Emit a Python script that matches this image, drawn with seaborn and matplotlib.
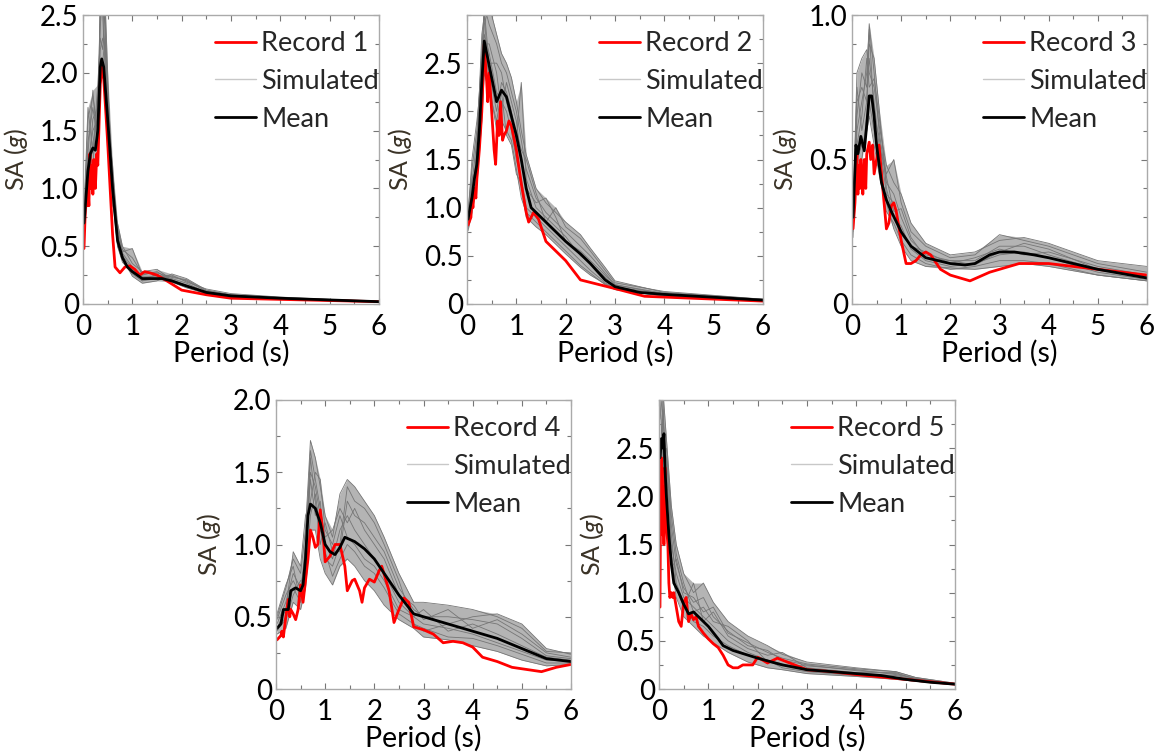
import numpy as np
import pandas as pd
import matplotlib
matplotlib.use("Agg")
import matplotlib.pyplot as plt
from matplotlib.ticker import MultipleLocator
from matplotlib.lines import Line2D
import seaborn as sns

# ---------------- Panel 1 ----------------
p1_mean_T = [0.02, 0.1, 0.15, 0.2, 0.25, 0.3, 0.35, 0.38, 0.42, 0.5, 0.6, 0.7, 0.8, 0.9, 1.0, 1.2, 1.4, 1.6, 1.8, 2.0, 2.5, 3.0, 4.0, 5.0, 6.0]
p1_mean_SA = [0.7, 1.15, 1.3, 1.35, 1.33, 1.5, 2.05, 2.12, 2.05, 1.6, 1.0, 0.55, 0.4, 0.32, 0.28, 0.22, 0.22, 0.22, 0.2, 0.17, 0.1, 0.07, 0.05, 0.035, 0.02]
p1_rec_T = [0.02, 0.05, 0.08, 0.1, 0.12, 0.14, 0.16, 0.18, 0.2, 0.22, 0.25, 0.28, 0.3, 0.35, 0.38, 0.42, 0.5, 0.6, 0.65, 0.75, 0.85, 0.95, 1.05, 1.15, 1.25, 1.35, 1.5, 1.7, 2.0, 2.5, 3.0, 4.0, 5.0, 6.0]
p1_rec_SA = [0.48, 0.85, 0.85, 1.0, 0.85, 1.3, 1.0, 1.2, 0.95, 1.25, 1.0, 1.3, 1.2, 1.9, 2.05, 1.95, 1.4, 0.6, 0.32, 0.27, 0.32, 0.33, 0.3, 0.25, 0.28, 0.27, 0.25, 0.2, 0.12, 0.08, 0.05, 0.04, 0.03, 0.02]
p1_sim_T = [0.02, 0.1, 0.2, 0.3, 0.35, 0.4, 0.45, 0.5, 0.6, 0.7, 0.8, 1.0, 1.2, 1.5, 1.8, 2.1, 2.5, 3, 4, 5, 6]
p1_sim = [
    [0.65, 1.2, 1.5, 1.6, 2.2, 2.3, 2.2, 1.7, 1.0, 0.6, 0.42, 0.30, 0.22, 0.25, 0.22, 0.18, 0.10, 0.07, 0.05, 0.035, 0.02],
    [0.75, 1.6, 1.8, 1.5, 2.5, 2.6, 2.4, 1.5, 0.9, 0.5, 0.38, 0.26, 0.20, 0.22, 0.24, 0.20, 0.11, 0.08, 0.05, 0.035, 0.02],
    [0.70, 1.0, 1.2, 1.8, 2.0, 2.1, 2.3, 1.9, 1.1, 0.65, 0.45, 0.48, 0.25, 0.28, 0.20, 0.15, 0.09, 0.07, 0.045, 0.03, 0.02],
    [0.60, 1.4, 1.7, 1.4, 2.7, 2.5, 2.0, 1.6, 1.2, 0.55, 0.40, 0.24, 0.18, 0.20, 0.26, 0.22, 0.12, 0.08, 0.055, 0.04, 0.025],
    [0.80, 1.7, 1.3, 1.9, 2.3, 2.2, 2.6, 2.0, 0.85, 0.7, 0.5, 0.35, 0.28, 0.30, 0.21, 0.16, 0.10, 0.06, 0.05, 0.03, 0.018],
    [0.68, 1.1, 1.6, 1.7, 2.6, 2.8, 2.5, 1.8, 0.95, 0.5, 0.36, 0.28, 0.24, 0.24, 0.25, 0.19, 0.13, 0.09, 0.06, 0.04, 0.022],
    [0.72, 1.3, 1.85, 1.3, 1.9, 2.0, 1.85, 1.3, 1.05, 0.6, 0.44, 0.32, 0.20, 0.26, 0.19, 0.14, 0.09, 0.07, 0.045, 0.035, 0.02],
    [0.62, 0.95, 1.4, 1.6, 2.4, 2.7, 2.1, 1.75, 1.15, 0.68, 0.47, 0.40, 0.26, 0.27, 0.23, 0.21, 0.11, 0.075, 0.05, 0.03, 0.02],
]

# ---------------- Panel 2 ----------------
p2_mean_T = [0.02, 0.1, 0.15, 0.2, 0.25, 0.3, 0.35, 0.4, 0.5, 0.6, 0.7, 0.8, 0.9, 1.0, 1.1, 1.2, 1.3, 1.5, 1.8, 2.0, 2.3, 2.5, 2.8, 3.0, 3.5, 4.0, 5.0, 6.0]
p2_mean_SA = [0.88, 1.1, 1.3, 1.45, 1.8, 2.3, 2.73, 2.6, 2.35, 2.1, 2.22, 2.15, 1.95, 1.75, 1.5, 1.2, 1.0, 0.9, 0.75, 0.65, 0.52, 0.42, 0.25, 0.18, 0.12, 0.1, 0.07, 0.04]
p2_rec_T = [0.02, 0.08, 0.1, 0.12, 0.15, 0.18, 0.2, 0.25, 0.3, 0.35, 0.4, 0.42, 0.45, 0.5, 0.55, 0.58, 0.62, 0.65, 0.68, 0.72, 0.75, 0.8, 0.85, 0.9, 1.0, 1.1, 1.2, 1.25, 1.35, 1.45, 1.6, 2.0, 2.3, 3.0, 3.6, 6.0]
p2_rec_SA = [0.82, 0.9, 1.1, 1.0, 1.2, 1.1, 1.3, 1.6, 2.0, 2.7, 2.3, 2.1, 2.4, 2.0, 1.6, 1.45, 1.9, 1.75, 2.1, 1.7, 1.75, 1.8, 1.9, 1.85, 1.6, 1.25, 0.95, 0.85, 0.95, 0.88, 0.65, 0.45, 0.25, 0.16, 0.08, 0.03]
p2_sim_T = [0.02, 0.1, 0.2, 0.3, 0.35, 0.45, 0.6, 0.7, 0.8, 0.9, 1.0, 1.1, 1.2, 1.4, 1.6, 1.8, 2.0, 2.3, 2.5, 2.8, 3.0, 4.0, 5.0, 6.0]
p2_sim = [
    [0.80, 1.0, 1.3, 2.0, 2.8, 2.6, 2.2, 2.1, 2.0, 1.8, 1.5, 1.3, 1.0, 0.9, 0.8, 0.7, 0.6, 0.45, 0.35, 0.22, 0.16, 0.09, 0.06, 0.035],
    [0.95, 1.4, 1.8, 2.6, 3.1, 2.9, 2.7, 2.5, 2.4, 2.2, 2.0, 1.7, 1.4, 1.1, 0.95, 0.85, 0.75, 0.6, 0.5, 0.32, 0.2, 0.11, 0.08, 0.045],
    [0.85, 1.2, 1.5, 2.2, 2.6, 2.4, 2.0, 2.3, 2.2, 2.0, 1.7, 2.3, 1.3, 1.0, 0.9, 0.8, 0.7, 0.5, 0.42, 0.28, 0.18, 0.1, 0.07, 0.04],
    [0.78, 1.1, 1.6, 2.8, 3.0, 2.3, 1.8, 1.9, 1.8, 1.7, 1.4, 1.1, 0.95, 0.85, 0.75, 0.65, 0.55, 0.4, 0.32, 0.2, 0.15, 0.08, 0.05, 0.03],
    [0.92, 1.5, 1.9, 2.4, 2.9, 3.1, 2.8, 2.6, 2.5, 2.35, 2.1, 1.8, 1.55, 1.2, 1.05, 0.95, 0.85, 0.72, 0.58, 0.38, 0.24, 0.12, 0.085, 0.05],
    [0.88, 1.3, 1.4, 2.1, 2.7, 2.7, 2.4, 2.0, 2.3, 2.1, 1.9, 1.5, 1.2, 1.05, 1.1, 0.9, 0.65, 0.55, 0.45, 0.3, 0.2, 0.1, 0.07, 0.04],
    [0.76, 0.95, 1.25, 1.9, 2.4, 2.2, 1.9, 2.2, 1.75, 1.65, 1.35, 1.25, 0.9, 0.8, 0.72, 0.62, 0.52, 0.38, 0.3, 0.21, 0.15, 0.085, 0.055, 0.03],
    [0.9, 1.25, 1.7, 2.5, 3.05, 2.5, 2.5, 2.4, 2.1, 1.9, 1.8, 1.6, 1.5, 1.15, 0.85, 1.0, 0.8, 0.68, 0.55, 0.35, 0.22, 0.13, 0.09, 0.05],
]

# ---------------- Panel 3 ----------------
p3_mean_T = [0.02, 0.08, 0.12, 0.18, 0.25, 0.3, 0.35, 0.4, 0.45, 0.5, 0.6, 0.7, 0.8, 1.0, 1.2, 1.5, 2.0, 2.3, 2.5, 2.8, 3.0, 3.3, 3.7, 4.0, 5.0, 6.0]
p3_mean_SA = [0.3, 0.55, 0.52, 0.58, 0.53, 0.62, 0.72, 0.72, 0.65, 0.55, 0.42, 0.36, 0.32, 0.25, 0.2, 0.16, 0.14, 0.135, 0.14, 0.17, 0.18, 0.18, 0.17, 0.16, 0.12, 0.09]
p3_rec_T = [0.02, 0.06, 0.1, 0.12, 0.14, 0.16, 0.18, 0.2, 0.22, 0.25, 0.28, 0.3, 0.35, 0.38, 0.42, 0.45, 0.5, 0.55, 0.6, 0.7, 0.75, 0.8, 0.85, 0.9, 1.0, 1.1, 1.2, 1.3, 1.4, 1.5, 1.6, 1.8, 2.0, 2.4, 2.8, 3.4, 4.0, 5.0, 6.0]
p3_rec_SA = [0.26, 0.35, 0.52, 0.38, 0.48, 0.4, 0.5, 0.45, 0.38, 0.5, 0.4, 0.52, 0.56, 0.5, 0.55, 0.45, 0.5, 0.55, 0.45, 0.26, 0.28, 0.34, 0.35, 0.32, 0.22, 0.14, 0.14, 0.15, 0.17, 0.18, 0.17, 0.12, 0.1, 0.08, 0.11, 0.14, 0.14, 0.12, 0.1]
p3_sim_T = [0.02, 0.1, 0.2, 0.3, 0.35, 0.45, 0.55, 0.7, 0.85, 1.0, 1.2, 1.5, 2.0, 2.5, 3.0, 3.5, 4.0, 5.0, 6.0]
p3_sim = [
    [0.25, 0.6, 0.7, 0.8, 0.97, 0.8, 0.6, 0.42, 0.38, 0.3, 0.22, 0.17, 0.15, 0.15, 0.2, 0.2, 0.17, 0.12, 0.09],
    [0.3, 0.75, 0.6, 0.7, 0.85, 0.7, 0.55, 0.45, 0.5, 0.35, 0.25, 0.2, 0.16, 0.17, 0.24, 0.22, 0.2, 0.14, 0.11],
    [0.28, 0.5, 0.55, 0.6, 0.65, 0.55, 0.45, 0.32, 0.28, 0.22, 0.17, 0.14, 0.12, 0.13, 0.15, 0.15, 0.14, 0.1, 0.08],
    [0.23, 0.65, 0.8, 0.75, 0.9, 0.85, 0.68, 0.4, 0.3, 0.27, 0.19, 0.15, 0.13, 0.14, 0.17, 0.18, 0.16, 0.11, 0.085],
    [0.32, 0.8, 0.85, 0.88, 0.8, 0.75, 0.62, 0.48, 0.42, 0.38, 0.28, 0.21, 0.17, 0.18, 0.22, 0.23, 0.21, 0.15, 0.13],
    [0.27, 0.45, 0.5, 0.65, 0.7, 0.6, 0.5, 0.35, 0.26, 0.2, 0.15, 0.13, 0.125, 0.12, 0.13, 0.14, 0.13, 0.1, 0.08],
    [0.29, 0.7, 0.75, 0.7, 0.95, 0.65, 0.58, 0.38, 0.35, 0.24, 0.2, 0.18, 0.14, 0.16, 0.19, 0.17, 0.18, 0.13, 0.1],
    [0.26, 0.55, 0.65, 0.85, 0.75, 0.78, 0.65, 0.44, 0.32, 0.33, 0.23, 0.16, 0.15, 0.135, 0.18, 0.21, 0.19, 0.12, 0.095],
]

# ---------------- Panel 4 ----------------
p4_mean_T = [0.02, 0.1, 0.15, 0.25, 0.3, 0.4, 0.5, 0.55, 0.6, 0.65, 0.7, 0.8, 0.9, 1.0, 1.1, 1.2, 1.3, 1.4, 1.6, 1.8, 2.0, 2.2, 2.5, 2.8, 3.0, 3.5, 4.0, 4.5, 5.0, 5.5, 6.0]
p4_mean_SA = [0.42, 0.45, 0.55, 0.55, 0.68, 0.7, 0.68, 0.72, 0.9, 1.2, 1.28, 1.25, 1.15, 1.0, 0.95, 0.93, 0.98, 1.05, 1.02, 0.97, 0.9, 0.8, 0.65, 0.52, 0.5, 0.45, 0.4, 0.35, 0.28, 0.21, 0.19]
p4_rec_T = [0.02, 0.1, 0.12, 0.15, 0.2, 0.25, 0.28, 0.3, 0.35, 0.4, 0.45, 0.5, 0.55, 0.6, 0.65, 0.7, 0.75, 0.8, 0.85, 0.9, 0.95, 1.0, 1.1, 1.2, 1.3, 1.4, 1.45, 1.55, 1.6, 1.7, 1.75, 1.8, 1.9, 2.0, 2.1, 2.15, 2.3, 2.4, 2.5, 2.6, 2.7, 2.8, 3.0, 3.2, 3.4, 3.6, 3.8, 4.0, 4.2, 4.5, 4.8, 5.0, 5.4, 5.7, 6.0]
p4_rec_SA = [0.34, 0.37, 0.4, 0.36, 0.5, 0.62, 0.5, 0.55, 0.52, 0.48, 0.55, 0.72, 0.6, 0.75, 0.9, 1.1, 1.05, 0.98, 1.0, 1.24, 1.1, 0.88, 0.92, 1.0, 1.0, 0.85, 0.68, 0.75, 0.76, 0.68, 0.6, 0.7, 0.76, 0.74, 0.82, 0.85, 0.68, 0.46, 0.55, 0.63, 0.6, 0.43, 0.41, 0.38, 0.32, 0.33, 0.32, 0.29, 0.22, 0.19, 0.15, 0.14, 0.12, 0.15, 0.17]
p4_sim_T = [0.02, 0.2, 0.35, 0.5, 0.6, 0.7, 0.8, 0.9, 1.0, 1.15, 1.3, 1.45, 1.6, 1.8, 2.0, 2.2, 2.5, 2.8, 3.0, 3.5, 4.0, 4.5, 5.0, 5.5, 6.0]
p4_sim = [
    [0.4, 0.5, 0.7, 0.6, 0.8, 1.5, 1.4, 1.2, 1.0, 0.9, 1.1, 1.2, 1.1, 1.0, 0.9, 0.8, 0.6, 0.5, 0.45, 0.42, 0.38, 0.32, 0.26, 0.2, 0.19],
    [0.5, 0.7, 0.9, 0.8, 1.1, 1.72, 1.6, 1.4, 1.2, 1.05, 1.35, 1.45, 1.4, 1.3, 1.2, 1.05, 0.8, 0.6, 0.6, 0.58, 0.55, 0.5, 0.42, 0.26, 0.25],
    [0.38, 0.42, 0.6, 0.55, 0.7, 1.1, 1.1, 0.9, 0.8, 0.72, 0.85, 0.9, 0.85, 0.75, 0.68, 0.58, 0.48, 0.42, 0.36, 0.34, 0.3, 0.26, 0.2, 0.16, 0.17],
    [0.45, 0.6, 0.8, 0.7, 0.9, 1.6, 1.3, 1.0, 1.15, 0.95, 0.95, 1.3, 1.2, 1.15, 1.05, 0.95, 0.7, 0.55, 0.5, 0.5, 0.48, 0.45, 0.35, 0.23, 0.21],
    [0.42, 0.55, 0.95, 0.85, 1.2, 1.3, 1.5, 1.45, 1.1, 1.0, 1.2, 1.05, 1.0, 0.9, 0.85, 0.75, 0.55, 0.5, 0.55, 0.4, 0.45, 0.38, 0.3, 0.22, 0.2],
    [0.48, 0.65, 0.75, 0.65, 1.0, 1.45, 1.2, 1.3, 0.9, 0.85, 1.0, 1.4, 1.3, 1.25, 1.15, 1.0, 0.75, 0.45, 0.4, 0.45, 0.5, 0.52, 0.45, 0.28, 0.24],
    [0.41, 0.48, 0.65, 0.75, 0.75, 1.2, 1.35, 1.1, 0.95, 0.78, 0.9, 1.0, 0.95, 0.85, 0.8, 0.7, 0.52, 0.45, 0.42, 0.36, 0.35, 0.3, 0.24, 0.18, 0.18],
    [0.52, 0.72, 0.85, 0.6, 0.95, 1.65, 1.45, 1.25, 1.05, 1.1, 1.25, 1.15, 1.25, 1.1, 1.0, 0.9, 0.65, 0.58, 0.48, 0.55, 0.42, 0.48, 0.38, 0.25, 0.22],
]

# ---------------- Panel 5 ----------------
p5_mean_T = [0.02, 0.05, 0.08, 0.1, 0.12, 0.15, 0.2, 0.25, 0.3, 0.4, 0.5, 0.6, 0.7, 0.8, 1.0, 1.2, 1.3, 1.5, 2.0, 2.5, 3.0, 3.5, 4.0, 4.5, 5.0, 5.5, 6.0]
p5_mean_SA = [2.4, 2.6, 2.5, 2.65, 2.3, 2.0, 1.6, 1.3, 1.1, 1.0, 0.88, 0.78, 0.8, 0.75, 0.65, 0.52, 0.45, 0.4, 0.32, 0.25, 0.2, 0.18, 0.16, 0.14, 0.1, 0.07, 0.05]
p5_rec_T = [0.02, 0.03, 0.05, 0.07, 0.08, 0.1, 0.12, 0.15, 0.18, 0.2, 0.22, 0.25, 0.28, 0.3, 0.35, 0.4, 0.45, 0.5, 0.55, 0.6, 0.65, 0.7, 0.75, 0.8, 0.9, 1.0, 1.1, 1.2, 1.3, 1.4, 1.5, 1.6, 1.7, 1.9, 2.0, 2.1, 2.2, 2.4, 2.6, 3.0, 3.5, 4.0, 5.0, 6.0]
p5_rec_SA = [0.85, 1.8, 2.4, 1.6, 2.1, 1.5, 2.3, 1.7, 1.5, 1.1, 0.95, 1.0, 0.95, 1.0, 0.85, 0.7, 0.65, 0.9, 0.95, 0.7, 0.78, 0.72, 0.75, 0.65, 0.58, 0.52, 0.47, 0.43, 0.35, 0.25, 0.22, 0.22, 0.25, 0.25, 0.33, 0.3, 0.27, 0.32, 0.28, 0.2, 0.18, 0.15, 0.1, 0.05]
p5_sim_T = [0.02, 0.08, 0.15, 0.25, 0.35, 0.5, 0.7, 0.9, 1.1, 1.4, 1.8, 2.2, 2.5, 3.0, 4.0, 4.8, 5.2, 6.0]
p5_sim = [
    [2.0, 2.8, 2.3, 1.5, 1.2, 0.95, 0.85, 0.75, 0.65, 0.5, 0.38, 0.3, 0.26, 0.2, 0.16, 0.14, 0.1, 0.05],
    [2.8, 3.1, 2.6, 1.9, 1.5, 1.2, 1.0, 1.1, 0.9, 0.7, 0.55, 0.45, 0.36, 0.28, 0.22, 0.18, 0.12, 0.06],
    [1.9, 2.2, 1.9, 1.3, 0.95, 0.75, 0.65, 0.55, 0.48, 0.38, 0.28, 0.22, 0.2, 0.16, 0.13, 0.1, 0.08, 0.045],
    [2.5, 2.6, 2.4, 1.7, 1.3, 1.05, 0.9, 0.95, 0.75, 0.6, 0.45, 0.4, 0.3, 0.25, 0.19, 0.16, 0.11, 0.055],
    [2.2, 3.0, 2.0, 1.4, 1.05, 0.85, 1.1, 0.7, 0.8, 0.55, 0.42, 0.35, 0.38, 0.22, 0.17, 0.17, 0.1, 0.05],
    [3.0, 2.4, 2.5, 1.8, 1.4, 1.1, 0.8, 0.85, 0.7, 0.65, 0.5, 0.28, 0.25, 0.24, 0.2, 0.15, 0.11, 0.055],
    [2.1, 2.9, 2.2, 1.6, 1.1, 0.9, 0.7, 0.65, 0.55, 0.45, 0.35, 0.3, 0.22, 0.18, 0.14, 0.12, 0.09, 0.045],
    [2.6, 2.5, 2.1, 1.25, 1.35, 1.0, 0.95, 0.8, 0.85, 0.58, 0.48, 0.38, 0.32, 0.26, 0.21, 0.18, 0.12, 0.06],
]

panels = [
    dict(name="Record 1", mT=p1_mean_T, mS=p1_mean_SA, rT=p1_rec_T, rS=p1_rec_SA, sT=p1_sim_T, sims=p1_sim,
         ylim=2.5, yticks=[0, 0.5, 1.0, 1.5, 2.0, 2.5], ylabels=["0", "0.5", "1.0", "1.5", "2.0", "2.5"]),
    dict(name="Record 2", mT=p2_mean_T, mS=p2_mean_SA, rT=p2_rec_T, rS=p2_rec_SA, sT=p2_sim_T, sims=p2_sim,
         ylim=3.0, yticks=[0, 0.5, 1.0, 1.5, 2.0, 2.5], ylabels=["0", "0.5", "1.0", "1.5", "2.0", "2.5"]),
    dict(name="Record 3", mT=p3_mean_T, mS=p3_mean_SA, rT=p3_rec_T, rS=p3_rec_SA, sT=p3_sim_T, sims=p3_sim,
         ylim=1.0, yticks=[0, 0.5, 1.0], ylabels=["0", "0.5", "1.0"]),
    dict(name="Record 4", mT=p4_mean_T, mS=p4_mean_SA, rT=p4_rec_T, rS=p4_rec_SA, sT=p4_sim_T, sims=p4_sim,
         ylim=2.0, yticks=[0, 0.5, 1.0, 1.5, 2.0], ylabels=["0", "0.5", "1.0", "1.5", "2.0"]),
    dict(name="Record 5", mT=p5_mean_T, mS=p5_mean_SA, rT=p5_rec_T, rS=p5_rec_SA, sT=p5_sim_T, sims=p5_sim,
         ylim=3.0, yticks=[0, 0.5, 1.0, 1.5, 2.0, 2.5], ylabels=["0", "0.5", "1.0", "1.5", "2.0", "2.5"]),
]

sns.set_theme(style="white")
plt.rcParams['font.family'] = ['Lato', 'DejaVu Sans']
plt.rcParams['mathtext.fontset'] = 'custom'
plt.rcParams['mathtext.it'] = 'Lato:italic'
plt.rcParams['mathtext.rm'] = 'Lato'

W, H = 1161, 755
fig = plt.figure(figsize=(W / 100, H / 100), dpi=100)

# axes boxes in pixels: left, top, right, bottom
boxes = [(83, 15, 379, 304), (467, 15, 763, 304), (852, 15, 1147, 304),
         (276, 400, 571, 689), (659, 400, 955, 689)]

for p, (l, t, r, b) in zip(panels, boxes):
    ax = fig.add_axes([l / W, 1 - b / H, (r - l) / W, (b - t) / H])
    rows = []
    for i, s in enumerate(p["sims"]):
        for T, v in zip(p["sT"], s):
            rows.append((i, T, v))
    sdf = pd.DataFrame(rows, columns=["run", "T", "SA"])
    env = sdf.groupby("T")["SA"].agg(["min", "max"]).reset_index()
    ax.fill_between(env["T"], env["min"], env["max"], color="#949494", alpha=0.7, lw=0)
    sns.lineplot(data=sdf, x="T", y="SA", units="run", estimator=None, color="#767676",
                 lw=0.6, ax=ax, legend=False)
    sns.lineplot(x=p["rT"], y=p["rS"], color="#ff0000", lw=2.0, ax=ax, legend=False)
    sns.lineplot(x=p["mT"], y=p["mS"], color="black", lw=2.0, ax=ax, legend=False)

    ax.set_xlim(0, 6)
    ax.set_ylim(0, p["ylim"])
    ax.set_xticks([0, 1, 2, 3, 4, 5, 6])
    ax.set_xticklabels(["0", "1", "2", "3", "4", "5", "6"])
    ax.xaxis.set_minor_locator(MultipleLocator(0.5))
    ax.set_yticks(p["yticks"])
    ax.set_yticklabels(p["ylabels"])
    ax.yaxis.set_minor_locator(MultipleLocator(0.25 if p["ylim"] > 1.5 else 0.1))
    ax.tick_params(which="both", direction="in", top=True, right=True, bottom=True, left=True,
                   color="#777777", width=0.8)
    ax.tick_params(which="major", length=4, labelsize=20, labelcolor="black")
    ax.tick_params(axis="x", which="major", pad=7)
    ax.tick_params(axis="y", which="major", pad=3)
    ax.tick_params(which="minor", length=3)
    for sp in ax.spines.values():
        sp.set_color("#aaaaaa")
        sp.set_linewidth(1.0)
    ax.set_xlabel("Period (s)", fontsize=20.5, labelpad=0, color="black")
    ax.set_ylabel(r"SA ($g$)", fontsize=18, color="#3a3226")
    ax.yaxis.set_label_coords(-53 / (r - l), 0.5)

    handles = [Line2D([], [], color="#ff0000", lw=2.0),
               Line2D([], [], color="#c8c8c8", lw=1.0),
               Line2D([], [], color="black", lw=2.0)]
    ax.legend(handles, [p["name"], "Simulated", "Mean"], loc="upper right", frameon=False,
              fontsize=19.5, handlelength=1.5, handletextpad=0.2, labelspacing=0.47,
              borderpad=0.3, borderaxespad=0.0,
              bbox_to_anchor=(1.0 + 8 / (r - l), 1.0 - 8 / (b - t)))

fig.savefig("out.png", dpi=100)
